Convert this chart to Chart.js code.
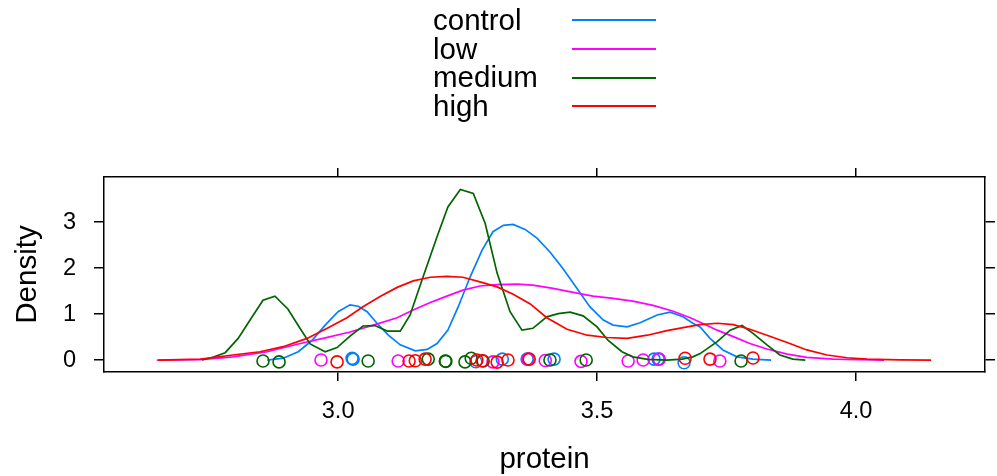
<!DOCTYPE html>
<html>
<head>
<meta charset="utf-8">
<script src="https://cdn.jsdelivr.net/npm/chart.js@4.4.1/dist/chart.umd.min.js"></script>
<style>
  html, body { margin: 0; padding: 0; background: #fff; }
  #wrap { position: relative; width: 997px; height: 476px; }
  #legend { position: absolute; left: 433px; top: 6px; font-family: "Liberation Sans", Arial, sans-serif; font-size: 29.5px; color: #000; }
  .row { display: flex; align-items: center; height: 28.7px; line-height: 28.7px; }
  .row span { width: 139px; }
  .row i { display: block; width: 84px; height: 2px; }
</style>
</head>
<body>
<div id="wrap">
  <canvas id="chart" width="997" height="476"></canvas>
  <div id="legend"></div>
</div>
<script>
// groups and lattice colours
const groups = ['control', 'low', 'medium', 'high'];
const colors = ['#0080ff', '#ff00ff', '#006400', '#ff0000'];

// tick labels
const xTickValues = [3.0, 3.5, 4.0];
const yTickValues = [0, 1, 2, 3];

// --- density curves ---
const controlX = [2.863, 2.894, 2.923, 2.950, 2.975, 3.000, 3.023, 3.039, 3.056, 3.075, 3.097, 3.120, 3.149, 3.172, 3.191, 3.212, 3.232, 3.255, 3.278, 3.299, 3.319, 3.338, 3.361, 3.384, 3.409, 3.434, 3.461, 3.486, 3.512, 3.531, 3.558, 3.583, 3.616, 3.641, 3.666, 3.685, 3.699, 3.718, 3.743, 3.770, 3.801, 3.836];
const controlY = [0, 0.04, 0.18, 0.43, 0.76, 1.05, 1.20, 1.17, 1.05, 0.80, 0.54, 0.33, 0.20, 0.23, 0.36, 0.65, 1.16, 1.81, 2.39, 2.79, 2.93, 2.95, 2.84, 2.65, 2.35, 1.99, 1.56, 1.16, 0.87, 0.76, 0.72, 0.81, 0.98, 1.04, 0.94, 0.80, 0.72, 0.47, 0.22, 0.07, 0.02, 0];

const lowX = [2.650, 2.734, 2.797, 2.863, 2.927, 2.971, 3.023, 3.068, 3.114, 3.145, 3.178, 3.210, 3.241, 3.274, 3.307, 3.346, 3.376, 3.415, 3.454, 3.492, 3.531, 3.569, 3.608, 3.647, 3.680, 3.699, 3.732, 3.763, 3.795, 3.828, 3.867, 3.905, 3.956, 4.008, 4.054];
const lowY = [0, 0.01, 0.07, 0.18, 0.36, 0.47, 0.61, 0.76, 0.92, 1.09, 1.25, 1.39, 1.52, 1.61, 1.64, 1.65, 1.63, 1.56, 1.47, 1.39, 1.34, 1.28, 1.19, 1.06, 0.92, 0.82, 0.65, 0.51, 0.36, 0.24, 0.13, 0.06, 0.02, 0.01, 0];

const mediumX = [2.737, 2.758, 2.782, 2.807, 2.830, 2.855, 2.878, 2.903, 2.927, 2.946, 2.975, 2.998, 3.023, 3.048, 3.071, 3.095, 3.120, 3.139, 3.162, 3.191, 3.212, 3.236, 3.261, 3.284, 3.307, 3.332, 3.355, 3.376, 3.403, 3.425, 3.448, 3.473, 3.500, 3.521, 3.548, 3.569, 3.598, 3.635, 3.664, 3.685, 3.699, 3.732, 3.757, 3.780, 3.801, 3.828, 3.853, 3.878, 3.902];
const mediumY = [0, 0.06, 0.16, 0.47, 0.87, 1.30, 1.39, 1.11, 0.68, 0.35, 0.18, 0.27, 0.52, 0.74, 0.75, 0.63, 0.63, 0.98, 1.74, 2.68, 3.33, 3.71, 3.62, 2.97, 1.89, 1.05, 0.65, 0.69, 0.94, 1.01, 1.04, 0.96, 0.72, 0.43, 0.18, 0.07, 0.015, 0, 0.02, 0.07, 0.14, 0.40, 0.65, 0.75, 0.58, 0.33, 0.11, 0.02, 0];

const highX = [2.653, 2.734, 2.797, 2.849, 2.894, 2.940, 2.979, 3.017, 3.048, 3.081, 3.114, 3.145, 3.178, 3.210, 3.241, 3.274, 3.307, 3.338, 3.371, 3.403, 3.442, 3.481, 3.519, 3.558, 3.597, 3.635, 3.674, 3.699, 3.732, 3.763, 3.795, 3.828, 3.867, 3.905, 3.944, 3.983, 4.021, 4.085, 4.145];
const highY = [0, 0.02, 0.11, 0.18, 0.29, 0.47, 0.69, 0.92, 1.16, 1.38, 1.58, 1.72, 1.80, 1.82, 1.80, 1.70, 1.59, 1.43, 1.22, 0.92, 0.67, 0.54, 0.49, 0.47, 0.54, 0.64, 0.72, 0.77, 0.80, 0.77, 0.67, 0.54, 0.38, 0.22, 0.11, 0.05, 0.02, 0.005, 0];

// --- raw observations (jittered rug at y ~ 0) ---
const controlPts = [3.027, 3.029, 3.266, 3.317, 3.365, 3.417, 3.610, 3.618, 3.668];
const controlJit = [0.037, 0.02, -0.037, 0.02, 0.02, 0.02, 0.02, 0.02, -0.06];
const lowPts = [2.967, 3.116, 3.299, 3.367, 3.400, 3.469, 3.560, 3.589, 3.620, 3.737];
const lowJit = [0, -0.02, -0.04, 0.02, -0.01, -0.03, -0.02, 0, 0.02, -0.02];
const mediumPts = [2.855, 2.886, 3.058, 3.174, 3.207, 3.208, 3.245, 3.257, 3.280, 3.409, 3.479, 3.778];
const mediumJit = [-0.02, -0.04, -0.02, 0.02, -0.02, -0.03, -0.04, 0.04, -0.02, 0, 0, -0.02];
const highPts = [2.998, 3.137, 3.149, 3.168, 3.268, 3.278, 3.307, 3.328, 3.369, 3.670, 3.718, 3.801];
const highJit = [-0.04, -0.02, -0.015, 0.02, 0, -0.015, -0.045, 0, 0.02, 0.04, 0.02, 0.045];

const curveX = [controlX, lowX, mediumX, highX];
const curveY = [controlY, lowY, mediumY, highY];
const ptsX = [controlPts, lowPts, mediumPts, highPts];
const ptsY = [controlJit, lowJit, mediumJit, highJit];

const FONT = '"Liberation Sans", Arial, sans-serif';

function zip(xs, ys) {
    return xs.map((x, i) => ({ x: x, y: ys[i] }));
}

const datasets = [];
groups.forEach((g, i) => {
    // later groups sit on top, like lattice draws them
    datasets.push({
        label: g,
        data: zip(curveX[i], curveY[i]),
        showLine: true,
        borderColor: colors[i],
        borderWidth: 1.7,
        pointRadius: 0,
        tension: 0,
        order: 2 * (groups.length - i)
    });
    datasets.push({
        label: g + ' obs',
        data: zip(ptsX[i], ptsY[i]),
        showLine: false,
        pointStyle: 'circle',
        pointRadius: 6,
        pointBorderWidth: 1.6,
        pointBorderColor: colors[i],
        pointBackgroundColor: 'rgba(0,0,0,0)',
        order: 2 * (groups.length - i) + 1
    });
});

// html legend: text first, line after
const legendEl = document.getElementById('legend');
groups.forEach((g, i) => {
    const row = document.createElement('div');
    row.className = 'row';
    row.innerHTML = `<span>${g}</span><i style="background:${colors[i]}"></i>`;
    legendEl.appendChild(row);
});

const tickGrid = (len) => ({ display: true, drawOnChartArea: false, drawTicks: true, tickLength: len, color: '#000', lineWidth: 1.5 });
const blackBorder = { display: true, color: '#000', width: 1.5 };

new Chart(document.getElementById('chart'), {
    type: 'scatter',
    data: { datasets: datasets },
    options: {
        responsive: false,
        animation: false,
        devicePixelRatio: 1,
        layout: { padding: { top: 157, left: 0, right: 0, bottom: 1 } },
        plugins: { legend: { display: false }, tooltip: { enabled: false } },
        scales: {
            x: {
                type: 'linear', position: 'bottom', min: 2.548, max: 4.249,
                afterBuildTicks: s => { s.ticks = xTickValues.map(v => ({ value: v })); },
                afterFit: s => { s.height = 103; },
                ticks: { callback: v => v.toFixed(1), color: '#000', padding: 16, maxRotation: 0, autoSkip: false, font: { family: FONT, size: 23.6 } },
                grid: tickGrid(9),
                border: blackBorder,
                title: { display: true, text: 'protein', color: '#000', padding: 0, font: { family: FONT, size: 29.5, lineHeight: 1 } }
            },
            x2: {
                type: 'linear', axis: 'x', position: 'top', min: 2.548, max: 4.249,
                afterBuildTicks: s => { s.ticks = xTickValues.map(v => ({ value: v })); },
                afterFit: s => { s.height = 20; },
                ticks: { display: false },
                grid: tickGrid(9),
                border: blackBorder
            },
            y: {
                type: 'linear', position: 'left', min: -0.26, max: 3.98,
                afterBuildTicks: s => { s.ticks = yTickValues.map(v => ({ value: v })); },
                afterFit: s => { s.width = 104; },
                ticks: { callback: v => String(v), color: '#000', padding: 18, font: { family: FONT, size: 23.6 } },
                grid: tickGrid(10),
                border: blackBorder,
                title: { display: true, text: 'Density', color: '#000', padding: { top: 13, bottom: 0 }, font: { family: FONT, size: 29.5, lineHeight: 1 } }
            },
            y2: {
                type: 'linear', axis: 'y', position: 'right', min: -0.26, max: 3.98,
                afterBuildTicks: s => { s.ticks = yTickValues.map(v => ({ value: v })); },
                afterFit: s => { s.width = 12; },
                ticks: { display: false },
                grid: tickGrid(10),
                border: blackBorder
            }
        }
    }
});
</script>
</body>
</html>
